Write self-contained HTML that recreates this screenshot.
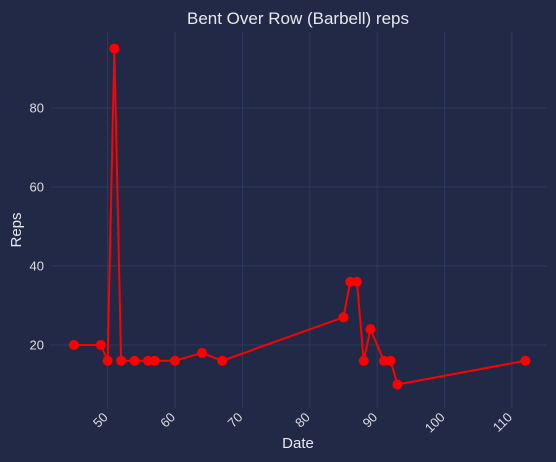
<!DOCTYPE html>
<html><head><meta charset="utf-8"><style>
body{margin:0;background:#212946;}
svg{display:block;font-family:"Liberation Sans",Arial,sans-serif;}
</style></head><body>
<svg id="chart" width="556" height="462">
<rect width="556" height="462" fill="#212946"/>
<g id="grid"></g><g id="axes"></g><g id="series"></g>
<text x="298" y="24" text-anchor="middle" font-size="17" fill="#e8e8ee">Bent Over Row (Barbell) reps</text>
<text x="21" y="230" text-anchor="middle" font-size="15" fill="#e8e8ee" transform="rotate(-90 21 230)">Reps</text>
<text x="298" y="448" text-anchor="middle" font-size="15" fill="#e8e8ee">Date</text>
</svg>
<script>
const dates=[45,49,50,51,52,54,56,57,60,64,67,85,86,87,88,89,91,92,93,112];
const reps=[20,20,16,95,16,16,16,16,16,18,16,27,36,36,16,24,16,16,10,16];
const xTicks=[50,60,70,80,90,100,110];
const yTicks=[20,40,60,80];
const L=51,R=547,T=32,B=408,xMin=41.6,xMax=115.2,yMin=4.05,yMax=99.2;
const NS="http://www.w3.org/2000/svg";
function x(v){return L+(v-xMin)/(xMax-xMin)*(R-L);}
function y(v){return B-(v-yMin)/(yMax-yMin)*(B-T);}
function mk(tag,attrs,parent){const e=document.createElementNS(NS,tag);for(const k in attrs)e.setAttribute(k,attrs[k]);document.getElementById(parent).appendChild(e);return e;}
xTicks.forEach(t=>{
 const g=mk('line',{x1:x(t),x2:x(t),y1:T,y2:B,stroke:'#2d3a5e','stroke-width':1},'grid');
 
 
 const ax=x(t)+1,ay=B+10;
 const tx=mk('text',{x:ax,y:ay,'text-anchor':'end','font-size':13,fill:'#dcdce4',transform:`rotate(-45 ${ax} ${ay})`},'axes');
 tx.textContent=t;
 
 
});
yTicks.forEach(t=>{
 const g=mk('line',{x1:L,x2:R,y1:y(t),y2:y(t),stroke:'#2d3a5e','stroke-width':1},'grid');
 
 
 const tx=mk('text',{x:44,y:y(t)+4.5,'text-anchor':'end','font-size':13,fill:'#dcdce4'},'axes');
 tx.textContent=t;
 
 
});
const pts=dates.map((d,i)=>x(d)+','+y(reps[i])).join(' ');
const pl=mk('polyline',{points:pts,fill:'none',stroke:'#ff0000','stroke-width':2},'series');


dates.forEach((d,i)=>{
 const c=mk('circle',{cx:x(d),cy:y(reps[i]),r:5,fill:'#ff0000'},'series');
 
 
});
</script>
</body></html>
